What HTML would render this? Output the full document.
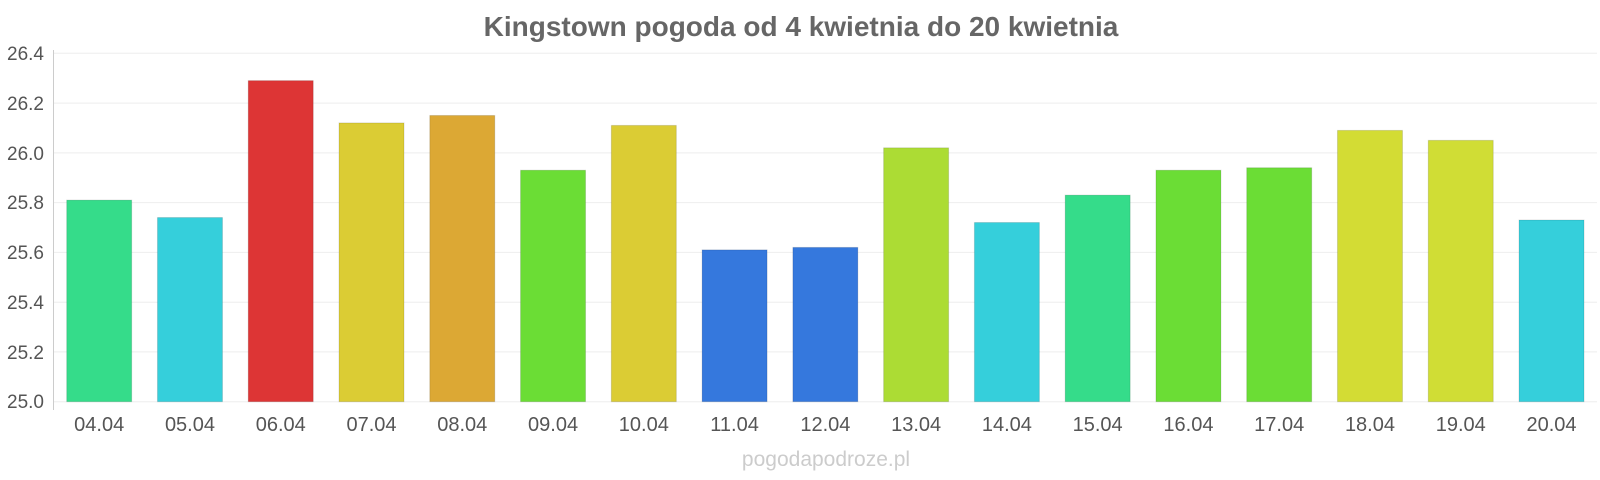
<!DOCTYPE html>
<html><head><meta charset="utf-8"><style>body{margin:0;background:#fff}svg{display:block}</style></head><body>
<svg width="1600" height="480" xmlns="http://www.w3.org/2000/svg" font-family="Liberation Sans, sans-serif">
<text x="801" y="36" text-anchor="middle" font-size="28" font-weight="bold" fill="#666">Kingstown pogoda od 4 kwietnia do 20 kwietnia</text>
<g stroke="#eee" stroke-width="1">
<line x1="53" x2="1597" y1="53.3" y2="53.3"/><line x1="53" x2="1597" y1="103.1" y2="103.1"/><line x1="53" x2="1597" y1="152.9" y2="152.9"/><line x1="53" x2="1597" y1="202.6" y2="202.6"/><line x1="53" x2="1597" y1="252.4" y2="252.4"/><line x1="53" x2="1597" y1="302.2" y2="302.2"/><line x1="53" x2="1597" y1="351.9" y2="351.9"/><line x1="53" x2="1597" y1="401.7" y2="401.7"/>
</g>
<g font-size="19" fill="#555" text-anchor="end">
<text x="44" y="60">26.4</text><text x="44" y="110">26.2</text><text x="44" y="160">26.0</text><text x="44" y="209">25.8</text><text x="44" y="259">25.6</text><text x="44" y="309">25.4</text><text x="44" y="359">25.2</text><text x="44" y="408">25.0</text>
</g>
<line x1="53.5" x2="53.5" y1="50" y2="410" stroke="#ccc"/>
<g id="bars"></g>
<g id="labels" font-size="20" fill="#555" text-anchor="middle"></g>
<text x="826" y="466" text-anchor="middle" font-size="21" fill="#ccc">pogodapodroze.pl</text>
<script>
var v=[25.81,25.74,26.29,26.12,26.15,25.93,26.11,25.61,25.62,26.02,25.72,25.83,25.93,25.94,26.09,26.05,25.73];
var c=["#35dc8a","#35cfdb","#dd3535","#dbcc34","#dca834","#6bdd35","#dbcc34","#3578dd","#3578dd","#acdc34","#35cfdb","#35dc8a","#6bdd35","#6bdd35","#d3dc34","#d0dd35","#35cfdb"];
var b=document.getElementById("bars"),l=document.getElementById("labels"),ns="http://www.w3.org/2000/svg";
for(var i=0;i<17;i++){var x=66.7+i*90.77,y=401.7-(v[i]-25)*248.9;
var r=document.createElementNS(ns,"rect");r.setAttribute("x",x);r.setAttribute("y",y);r.setAttribute("width",65);r.setAttribute("height",401.7-y);r.setAttribute("fill",c[i]);r.setAttribute("stroke","rgba(0,0,0,0.12)");b.appendChild(r);
var t=document.createElementNS(ns,"text");t.setAttribute("x",x+32.5);t.setAttribute("y",431);t.textContent=(i+4<10?"0":"")+(i+4)+".04";l.appendChild(t);}
</script>
</svg>
</body></html>
